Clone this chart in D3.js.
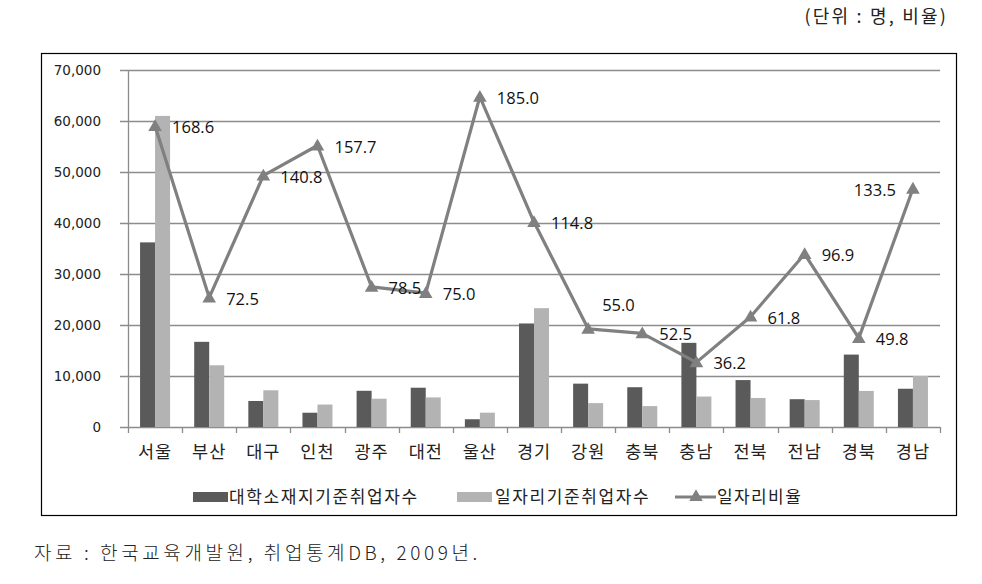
<!DOCTYPE html>
<html>
<head>
<meta charset="utf-8">
<script src="https://cdnjs.cloudflare.com/ajax/libs/d3/7.8.5/d3.min.js"></script>
<style>
body { margin:0; background:#fff; }
svg text { fill:#000; }
.kr { font-family:"Noto Sans CJK KR","Noto Sans",sans-serif; }
.num { font-family:"DejaVu Sans",sans-serif; }
.lbl { font-family:"Open Sans","DejaVu Sans",sans-serif; }
</style>
</head>
<body>
<svg id="chart" width="982" height="584"></svg>
<script>
// 지역
var regions = ["서울","부산","대구","인천","광주","대전","울산","경기","강원","충북","충남","전북","전남","경북","경남"];
// 대학소재지기준취업자수
var campusEmp = [36200,16700,5100,2800,7100,7700,1520,20300,8500,7800,16500,9200,5450,14200,7500];
// 일자리기준취업자수
var jobEmp = [61000,12100,7200,4400,5550,5800,2810,23300,4680,4100,5970,5690,5280,7070,10000];
// 일자리비율
var jobRatio = [168.6,72.5,140.8,157.7,78.5,75.0,185.0,114.8,55.0,52.5,36.2,61.8,96.9,49.8,133.5];
var yTicks = [0,10000,20000,30000,40000,50000,60000,70000];

var svg = d3.select("#chart");
var plotLeft = 128, plotRight = 940, plotTop = 70, plotBottom = 427;

svg.append("rect")
	.attr("x",41.5).attr("y",53.5).attr("width",915).attr("height",462)
	.attr("fill","none").attr("stroke","#000").attr("stroke-width",1.2);

var x = d3.scaleBand().domain(regions).range([plotLeft,plotRight]);
var y = d3.scaleLinear().domain([0,70000]).range([plotBottom,plotTop]);
var y2 = d3.scaleLinear().domain([0,200]).range([plotBottom,plotTop]);

// grid
svg.append("g").selectAll("line").data(yTicks).enter().append("line")
	.attr("x1",plotLeft - 8).attr("x2",plotRight)
	.attr("y1",function(d){return Math.round(y(d))+0.5;})
	.attr("y2",function(d){return Math.round(y(d))+0.5;})
	.attr("stroke","#8c8c8c").attr("stroke-width",1.3);

svg.append("g").selectAll("text").data(yTicks).enter().append("text")
	.attr("class","num")
	.attr("x",101).attr("y",function(d){return y(d)+5;})
	.attr("text-anchor","end").style("font-size","13.5px").style("fill","#222")
	.text(function(d){return d3.format(",")(d);});

// axes lines
svg.append("line").attr("x1",plotLeft+0.5).attr("x2",plotLeft+0.5).attr("y1",plotTop).attr("y2",plotBottom)
	.attr("stroke","#8c8c8c").attr("stroke-width",1.3);
var bounds = regions.map(function(d){return x(d);}).concat([plotRight]);
svg.append("g").selectAll("line").data(bounds).enter().append("line")
	.attr("x1",function(d){return Math.round(d)+0.5;})
	.attr("x2",function(d){return Math.round(d)+0.5;})
	.attr("y1",plotBottom).attr("y2",plotBottom+6)
	.attr("stroke","#8c8c8c").attr("stroke-width",1.3);

// bars
var bw = 15;
var bars = svg.append("g");
bars.selectAll(".b1").data(campusEmp).enter().append("rect")
	.attr("x",function(d,i){return x(regions[i]) + x.bandwidth()/2 - bw;})
	.attr("y",function(d){return y(d);})
	.attr("width",bw).attr("height",function(d){return plotBottom - y(d);})
	.attr("fill","#5a5a5a");
bars.selectAll(".b2").data(jobEmp).enter().append("rect")
	.attr("x",function(d,i){return x(regions[i]) + x.bandwidth()/2;})
	.attr("y",function(d){return y(d);})
	.attr("width",bw).attr("height",function(d){return plotBottom - y(d);})
	.attr("fill","#b3b3b3");

// line
var cx = function(i){return x(regions[i]) + x.bandwidth()/2;};
var line = d3.line().x(function(d,i){return cx(i);}).y(function(d){return y2(d);});
svg.append("path").datum(jobRatio).attr("d",line)
	.attr("fill","none").attr("stroke","#808080").attr("stroke-width",3.2)
	.attr("stroke-linejoin","round");

var tri = d3.symbol().type(d3.symbolTriangle).size(80);
svg.append("g").selectAll("path").data(jobRatio).enter().append("path")
	.attr("d",tri)
	.attr("transform",function(d,i){return "translate("+cx(i)+","+(y2(d)+1)+")";})
	.attr("fill","#808080");

// labels: last one sits left of its marker, 강원 one is lifted
svg.append("g").selectAll("text").data(jobRatio).enter().append("text")
	.attr("class","lbl")
	.attr("x",function(d,i){
		if (i == regions.length-1) return cx(i) - 17;
		if (i == 8) return cx(i) + 14;
		return cx(i) + 17;
	})
	.attr("y",function(d,i){return i == 8 ? y2(d) - 18 : y2(d) + 7;})
	.attr("text-anchor",function(d,i){return i == regions.length-1 ? "end" : "start";})
	.style("font-size","16.5px").style("fill","#111")
	.text(function(d){return d.toFixed(1);});

// category labels
svg.append("g").selectAll("text").data(regions).enter().append("text")
	.attr("class","kr")
	.attr("x",function(d){return x(d) + x.bandwidth()/2;})
	.attr("y",458)
	.attr("text-anchor","middle").style("font-size","17.5px").style("fill","#222")
	.style("letter-spacing","1px")
	.text(function(d){return d;});

// legend
var lg = svg.append("g").attr("class","kr").style("font-size","17px");
lg.append("rect").attr("x",193).attr("y",492).attr("width",35).attr("height",10).attr("fill","#5a5a5a");
lg.append("text").attr("x",229).attr("y",503).style("fill","#222").style("letter-spacing","1.6px").text("대학소재지기준취업자수");
lg.append("rect").attr("x",457).attr("y",492).attr("width",35).attr("height",10).attr("fill","#b3b3b3");
lg.append("text").attr("x",495).attr("y",503).style("fill","#222").style("letter-spacing","1.6px").text("일자리기준취업자수");
lg.append("line").attr("x1",675).attr("x2",716).attr("y1",497).attr("y2",497)
	.attr("stroke","#808080").attr("stroke-width",3);
lg.append("path").attr("d",tri).attr("transform","translate(696,497)").attr("fill","#808080");
lg.append("text").attr("x",717).attr("y",503).style("fill","#222").style("letter-spacing","1.4px").text("일자리비율");

// unit & source
svg.append("text").attr("class","kr").attr("x",948).attr("y",23)
	.attr("text-anchor","end").style("font-size","18px").style("fill","#222")
	.style("letter-spacing","2.2px")
	.text("(단위 : 명, 비율)");
svg.append("text").attr("class","kr").attr("x",34).attr("y",560)
	.style("font-size","19px").style("fill","#222").style("font-weight","300")
	.style("letter-spacing","3.6px")
	.text("자료 : 한국교육개발원, 취업통계DB, 2009년.");
</script>
</body>
</html>
